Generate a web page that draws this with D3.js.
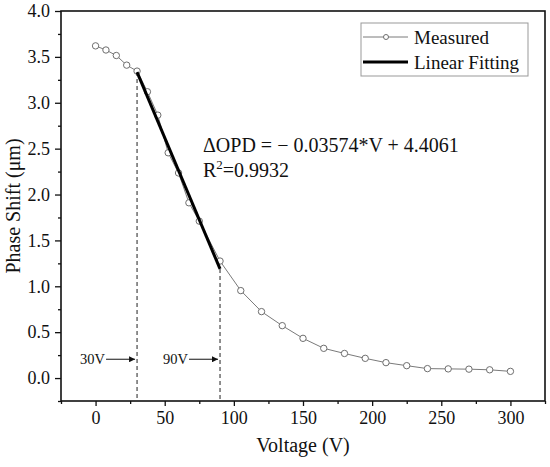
<!DOCTYPE html>
<html>
<head>
<meta charset="utf-8">
<script src="https://cdn.jsdelivr.net/npm/d3@7"></script>
<style>
html,body{margin:0;padding:0;background:#fff;}
svg{display:block;}
svg text{font-family:"Liberation Serif","Times New Roman",serif !important;}
</style>
</head>
<body>
<svg id="chart" width="550" height="467"></svg>
<script>
// Data
const voltage = [0, 7.5, 15, 22.5, 30, 37.5, 45, 52.5, 60, 67.5, 75, 90, 105, 120, 135, 150, 165, 180, 195, 210, 225, 240, 255, 270, 285, 300];
const phaseShift = [3.62, 3.575, 3.515, 3.41, 3.345, 3.12, 2.865, 2.455, 2.235, 1.91, 1.71, 1.275, 0.953, 0.724, 0.571, 0.433, 0.324, 0.268, 0.215, 0.168, 0.135, 0.103, 0.100, 0.097, 0.090, 0.073];
const fitSlope = -0.03574, fitIntercept = 4.4061;
const fitRange = [30, 90];
const xTicks = [0, 50, 100, 150, 200, 250, 300];
const yTicks = [0.0, 0.5, 1.0, 1.5, 2.0, 2.5, 3.0, 3.5, 4.0];
const xMinor = [-25, 25, 75, 125, 175, 225, 275, 325];
const yMinor = [-0.25, 0.25, 0.75, 1.25, 1.75, 2.25, 2.75, 3.25, 3.75];
const markers = [30, 90];
const markerLabels = ["30V", "90V"];
const legendLabels = ["Measured", "Linear Fitting"];

const FONT = "Liberation Serif, Times New Roman, serif";
const svg = d3.select("#chart");
const L = 61, R = 545, T = 11, B = 401;
const x = d3.scaleLinear().domain([-25, 325]).range([L, R]);
const y = d3.scaleLinear().domain([-0.25, 4.0]).range([B, T]);

// Axes
const xAxis = d3.axisBottom(x).tickValues(xTicks).tickSize(5).tickPadding(5).tickFormat(d3.format("d"));
const gx = svg.append("g").attr("transform", `translate(0,${B})`).call(xAxis)
  .attr("font-family", FONT).attr("font-size", 18);
gx.select(".domain").remove();
gx.selectAll("text").attr("fill", "#111");
gx.selectAll("line").attr("stroke", "#111").attr("stroke-width", 1.3);
const gxm = svg.append("g").attr("transform", `translate(0,${B})`).call(d3.axisBottom(x).tickValues(xMinor).tickSize(3).tickFormat(""));
gxm.select(".domain").remove();
gxm.selectAll("line").attr("stroke", "#111").attr("stroke-width", 1.3);

const yAxis = d3.axisLeft(y).tickValues(yTicks).tickSize(6).tickPadding(5).tickFormat(d3.format(".1f"));
const gy = svg.append("g").attr("transform", `translate(${L},0)`).call(yAxis)
  .attr("font-family", FONT).attr("font-size", 18);
gy.select(".domain").remove();
gy.selectAll("text").attr("fill", "#111");
gy.selectAll("line").attr("stroke", "#111").attr("stroke-width", 1.3);
const gym = svg.append("g").attr("transform", `translate(${L},0)`).call(d3.axisLeft(y).tickValues(yMinor).tickSize(3).tickFormat(""));
gym.select(".domain").remove();
gym.selectAll("line").attr("stroke", "#111").attr("stroke-width", 1.3);

// Frame
svg.append("rect").attr("x", L).attr("y", T).attr("width", R - L).attr("height", B - T)
  .attr("fill", "none").attr("stroke", "#111").attr("stroke-width", 1.6);

// Dashed marker lines
markers.forEach((m) => {
  const yv = fitSlope * m + fitIntercept;
  svg.append("line").attr("x1", x(m)).attr("x2", x(m)).attr("y1", y(yv)).attr("y2", B)
    .attr("stroke", "#555").attr("stroke-width", 1.3).attr("stroke-dasharray", "4,3");
});

// Arrow head
svg.append("defs").append("marker").attr("id", "arr").attr("viewBox", "0 0 10 10")
  .attr("refX", 10).attr("refY", 5).attr("markerWidth", 10).attr("markerHeight", 6)
  .attr("markerUnits", "userSpaceOnUse").attr("orient", "auto")
  .append("path").attr("d", "M0,0 L10,5 L0,10 z").attr("fill", "#111");

const arrowY = y(0.205);
markers.forEach((m, i) => {
  svg.append("text").attr("x", x(m) - 57).attr("y", arrowY + 5).attr("font-size", 14.5)
    .attr("font-family", FONT).attr("fill", "#111").text(markerLabels[i]);
  svg.append("line").attr("x1", x(m) - 31).attr("x2", x(m) - 2).attr("y1", arrowY).attr("y2", arrowY)
    .attr("stroke", "#111").attr("stroke-width", 1).attr("marker-end", "url(#arr)");
});

// Measured line + points
const pts = voltage.map((v, i) => [v, phaseShift[i]]);
svg.append("path").datum(pts)
  .attr("d", d3.line().x(d => x(d[0])).y(d => y(d[1])))
  .attr("fill", "none").attr("stroke", "#7a7a7a").attr("stroke-width", 1);
svg.append("g").selectAll("circle").data(pts).join("circle")
  .attr("cx", d => x(d[0])).attr("cy", d => y(d[1])).attr("r", 3.2)
  .attr("fill", "#fff").attr("stroke", "#6e6e6e").attr("stroke-width", 1);

// Fit line
svg.append("line")
  .attr("x1", x(fitRange[0])).attr("y1", y(fitSlope * fitRange[0] + fitIntercept))
  .attr("x2", x(fitRange[1])).attr("y2", y(fitSlope * fitRange[1] + fitIntercept))
  .attr("stroke", "#000").attr("stroke-width", 3);

// Equation
svg.append("text").attr("x", 203).attr("y", 152).attr("font-size", 20).attr("font-family", FONT).attr("fill", "#111")
  .text("ΔOPD = − 0.03574*V + 4.4061");
const r2 = svg.append("text").attr("x", 203).attr("y", 177).attr("font-size", 20).attr("font-family", FONT).attr("fill", "#111");
r2.append("tspan").text("R");
r2.append("tspan").attr("font-size", 13).attr("dy", -8).text("2");
r2.append("tspan").attr("dy", 8).text("=0.9932");

// Legend
svg.append("rect").attr("x", 361).attr("y", 23).attr("width", 167).attr("height", 53)
  .attr("fill", "#fff").attr("stroke", "#999").attr("stroke-width", 1);
svg.append("line").attr("x1", 363).attr("x2", 408).attr("y1", 37).attr("y2", 37)
  .attr("stroke", "#7a7a7a").attr("stroke-width", 1);
svg.append("circle").attr("cx", 386).attr("cy", 37).attr("r", 2.5)
  .attr("fill", "#fff").attr("stroke", "#6e6e6e").attr("stroke-width", 1);
svg.append("line").attr("x1", 363).attr("x2", 408).attr("y1", 62).attr("y2", 62)
  .attr("stroke", "#000").attr("stroke-width", 3);
svg.append("text").attr("x", 414).attr("y", 44).attr("font-size", 19).attr("font-family", FONT).attr("fill", "#111").text(legendLabels[0]);
svg.append("text").attr("x", 414).attr("y", 69).attr("font-size", 19).attr("font-family", FONT).attr("fill", "#111").text(legendLabels[1]);

// Axis titles
svg.append("text").attr("x", (L + R) / 2).attr("y", 452).attr("text-anchor", "middle")
  .attr("font-size", 20).attr("font-family", FONT).attr("fill", "#111").text("Voltage (V)");
svg.append("text").attr("transform", `translate(20,${(T + B) / 2}) rotate(-90)`).attr("text-anchor", "middle")
  .attr("font-size", 20).attr("font-family", FONT).attr("fill", "#111").text("Phase Shift (μm)");
</script>
</body>
</html>
